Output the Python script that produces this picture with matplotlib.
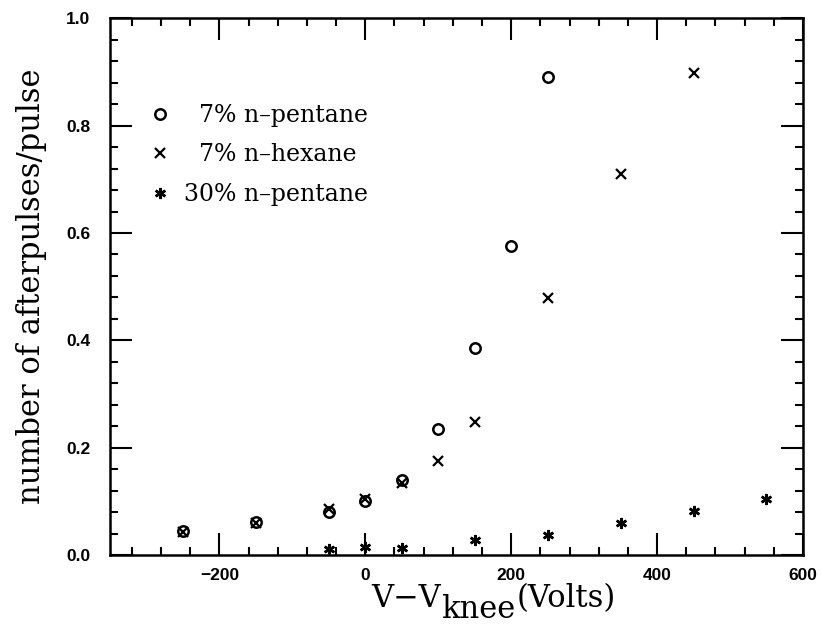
import matplotlib
matplotlib.use("Agg")
import matplotlib.pyplot as plt
from matplotlib.ticker import MultipleLocator, FormatStrFormatter

# 7% n-pentane
pent7_v = [-250, -150, -50, 0, 50, 100, 150, 200, 250]
pent7_y = [0.045, 0.062, 0.080, 0.100, 0.140, 0.235, 0.385, 0.575, 0.890]

# 7% n-hexane
hex7_v = [-250, -150, -50, 0, 50, 100, 150, 250, 350, 450]
hex7_y = [0.042, 0.060, 0.085, 0.105, 0.135, 0.175, 0.248, 0.478, 0.710, 0.898]

# 30% n-pentane
pent30_v = [-50, 0, 50, 150, 250, 350, 450, 550]
pent30_y = [0.012, 0.015, 0.013, 0.028, 0.038, 0.060, 0.082, 0.105]

serif = 'DejaVu Serif'

fig = plt.figure(figsize=(8.21, 6.30), dpi=100)
ax = fig.add_axes([0.134, 0.119, 0.844, 0.852])

ax.plot(pent7_v, pent7_y, 'o', ms=7.5, mfc='none', mec='black', mew=1.8,
        label='  7% n\u2013pentane')
ax.plot(hex7_v, hex7_y, 'x', ms=7.5, color='black', mew=1.6,
        label='  7% n\u2013hexane')
ax.plot(pent30_v, pent30_y, marker=(6, 2, 0), ls='none', ms=8, color='black',
        mew=1.8, label='30% n\u2013pentane')

ax.set_xlim(-350, 600)
ax.set_ylim(0, 1.0)
ax.xaxis.set_major_locator(MultipleLocator(200))
ax.xaxis.set_minor_locator(MultipleLocator(40))
ax.yaxis.set_major_locator(MultipleLocator(0.2))
ax.yaxis.set_minor_locator(MultipleLocator(0.04))
ax.yaxis.set_major_formatter(FormatStrFormatter('%.1f'))
ax.tick_params(which='both', direction='in', top=True, right=True, width=1.5)
ax.tick_params(which='major', length=16)
ax.tick_params(which='minor', length=6)
ax.tick_params(axis='x', pad=9)
ax.tick_params(axis='y', pad=14)
for lab in ax.get_xticklabels() + ax.get_yticklabels():
    lab.set_fontfamily('Liberation Sans')
    lab.set_fontweight('bold')
    lab.set_fontsize(12.5)
for sp in ax.spines.values():
    sp.set_linewidth(1.8)

# x label: "knee" is set almost full size and lowered
t1 = fig.text(0.452, 0.036, 'V\u2212V', family=serif, fontsize=22,
              va='baseline')
t2 = ax.annotate('knee', xy=(1, 0), xycoords=t1, xytext=(0, -8),
                 textcoords='offset points', family=serif, fontsize=22,
                 va='bottom')
ax.annotate('(Volts)', xy=(1, 0), xycoords=t2, xytext=(1, 8),
            textcoords='offset points', family=serif, fontsize=22,
            va='bottom')

ax.set_ylabel('number of afterpulses/pulse', family=serif, fontsize=22,
              labelpad=14)

ax.legend(loc='upper left', bbox_to_anchor=(0.025, 0.88), frameon=False,
          handletextpad=0.5, handlelength=1.0, labelspacing=0.7,
          prop={'family': serif, 'size': 17})

fig.savefig('out.png', dpi=100)
